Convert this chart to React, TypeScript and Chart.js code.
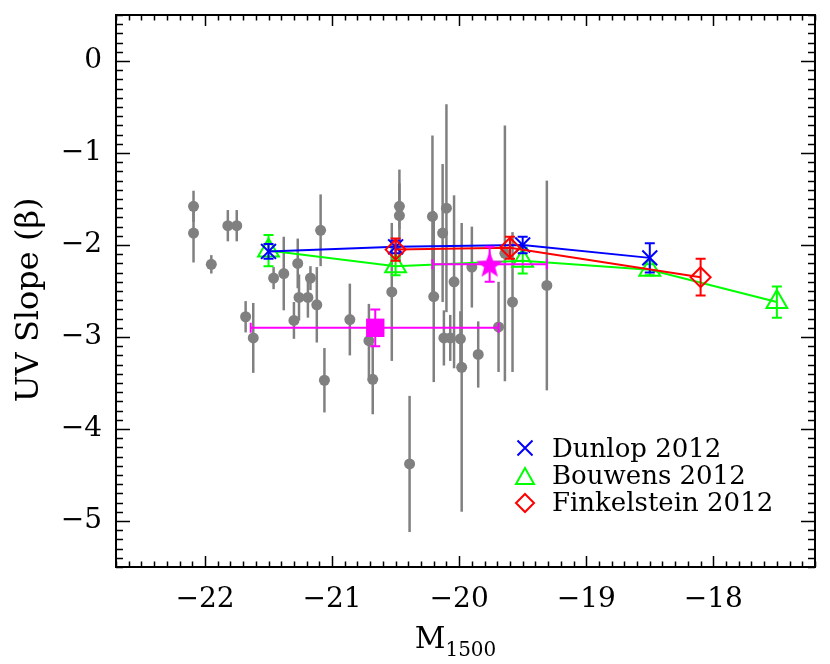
import React, { useEffect, useRef } from 'react';
import { Chart, registerables } from 'chart.js';

Chart.register(...registerables);

// ---- Data ----
const greyM = [-22.09, -22.09, -21.95, -21.82, -21.75, -21.68, -21.62, -21.46, -21.38, -21.30, -21.27, -21.26, -21.19, -21.17, -21.12, -21.09, -21.06, -20.86, -20.71, -20.68, -20.53, -20.47, -20.47, -20.39, -20.21, -20.20, -20.13, -20.10, -20.12, -20.07, -20.04, -19.99, -19.98, -19.90, -19.85, -19.69, -19.64, -19.58, -19.31];
const greyBeta = [-1.58, -1.87, -2.21, -1.79, -1.79, -2.78, -3.01, -2.36, -2.31, -2.82, -2.20, -2.57, -2.57, -2.36, -2.65, -1.84, -3.47, -2.81, -3.04, -3.46, -2.51, -1.58, -1.68, -4.38, -1.69, -2.56, -1.87, -1.60, -3.01, -3.01, -2.40, -3.02, -3.33, -2.24, -3.19, -2.89, -2.09, -2.62, -2.44];
const greyErr = [0.17, 0.32, 0.10, 0.17, 0.17, 0.17, 0.38, 0.12, 0.40, 0.20, 0.27, 0.25, 0.22, 0.13, 0.41, 0.39, 0.35, 0.39, 0.40, 0.38, 0.75, 0.25, 0.50, 0.74, 0.88, 0.93, 0.75, 1.13, 0.30, 0.25, 0.94, 0.30, 1.57, 0.44, 0.36, 0.49, 1.39, 0.76, 1.14];

const dunlopM = [-21.5, -20.5, -19.5, -18.5];
const dunlopBeta = [-2.07, -2.02, -2.00, -2.14];
const dunlopErr = [0.08, 0.07, 0.09, 0.16];

const bouwensM = [-21.5, -20.5, -19.5, -18.5, -17.5];
const bouwensBeta = [-2.06, -2.23, -2.17, -2.27, -2.62];
const bouwensErr = [0.17, 0.10, 0.14, 0.06, 0.17];

const finkM = [-20.5, -19.6, -18.1];
const finkBeta = [-2.05, -2.03, -2.35];
const finkErr = [0.12, 0.12, 0.20];

const squareM = [-20.66];
const squareBeta = [-2.90];
const squareErr = [0.20];
const squareMLo = [-21.64];
const squareMHi = [-19.69];

const starM = [-19.76];
const starBeta = [-2.21];
const starErr = [0.19];
const starMLo = [-20.21];
const starMHi = [-19.31];

const xTicks = [-22, -21, -20, -19, -18];
const yTicks = [0, -1, -2, -3, -4, -5];

const legendLabels = ['Dunlop 2012', 'Bouwens 2012', 'Finkelstein 2012'];

const FONT = "'DejaVu Serif', 'Liberation Serif', serif";

const pts = (xs: number[], ys: number[]) => xs.map((x, i) => ({ x, y: ys[i] }));

function fmt(v: number) {
  if (v === 0) return '0';
  return (v < 0 ? '\u2212' : '') + Math.abs(v);
}

function makeStar(R: number, color: string) {
  const c = document.createElement('canvas');
  const s = Math.ceil(R * 2 + 2);
  c.width = s; c.height = s;
  const g = c.getContext('2d')!;
  const cx = s / 2, cy = s / 2 + R * 0.08;
  const r = R * 0.42;
  g.beginPath();
  for (let i = 0; i < 10; i++) {
    const a = -Math.PI / 2 + (i * Math.PI) / 5;
    const rr = i % 2 === 0 ? R : r;
    const px = cx + rr * Math.cos(a), py = cy + rr * Math.sin(a);
    if (i === 0) g.moveTo(px, py); else g.lineTo(px, py);
  }
  g.closePath();
  g.fillStyle = color;
  g.fill();
  return c;
}

const errPlugin = {
  id: 'errbars',
  beforeDatasetDraw(chart: any, args: any) {
    const ds = chart.data.datasets[args.index];
    if (!ds.errY) return;
    const xs = chart.scales.x, ys = chart.scales.y;
    const ctx = chart.ctx;
    ctx.save();
    ctx.strokeStyle = ds.errColor;
    ctx.lineWidth = ds.errWidth || 2;
    ds.data.forEach((p: any, i: number) => {
      const px = xs.getPixelForValue(p.x);
      const py = ys.getPixelForValue(p.y);
      const yT = ys.getPixelForValue(p.y + ds.errY[i]);
      const yB = ys.getPixelForValue(p.y - ds.errY[i]);
      ctx.beginPath();
      ctx.moveTo(px, yT); ctx.lineTo(px, yB);
      if (ds.cap) {
        ctx.moveTo(px - ds.cap, yT); ctx.lineTo(px + ds.cap, yT);
        ctx.moveTo(px - ds.cap, yB); ctx.lineTo(px + ds.cap, yB);
      }
      if (ds.xLo) {
        const xl = xs.getPixelForValue(ds.xLo[i]);
        const xh = xs.getPixelForValue(ds.xHi[i]);
        ctx.moveTo(xl, py); ctx.lineTo(xh, py);
        ctx.moveTo(xl, py - ds.cap); ctx.lineTo(xl, py + ds.cap);
        ctx.moveTo(xh, py - ds.cap); ctx.lineTo(xh, py + ds.cap);
      }
      ctx.stroke();
    });
    ctx.restore();
  },
  afterDraw(chart: any) {
    const ctx = chart.ctx;
    const a = chart.chartArea;
    const xs = chart.scales.x, ys = chart.scales.y;
    ctx.save();
    ctx.strokeStyle = '#000';
    ctx.lineWidth = 2;
    ctx.strokeRect(a.left, a.top, a.right - a.left, a.bottom - a.top);
    ctx.beginPath();
    for (let k = Math.ceil(xs.min * 10 - 1e-6); k <= Math.floor(xs.max * 10 + 1e-6); k++) {
      const v = k / 10;
      const major = k % 10 === 0;
      const len = major ? 11 : 5.5;
      const px = Math.round(xs.getPixelForValue(v)) + 0.5;
      ctx.moveTo(px, a.bottom); ctx.lineTo(px, a.bottom - len);
      ctx.moveTo(px, a.top); ctx.lineTo(px, a.top + len);
    }
    for (let k = Math.ceil(ys.min * 10 - 1e-6); k <= Math.floor(ys.max * 10 + 1e-6); k++) {
      const v = k / 10;
      const major = k % 10 === 0;
      const len = major ? 14 : 7;
      const py = Math.round(ys.getPixelForValue(v)) + 0.5;
      ctx.moveTo(a.left, py); ctx.lineTo(a.left + len, py);
      ctx.moveTo(a.right, py); ctx.lineTo(a.right - len, py);
    }
    ctx.lineWidth = 1.5;
    ctx.stroke();

    // axis titles
    ctx.fillStyle = '#000';
    ctx.textBaseline = 'alphabetic';
    ctx.textAlign = 'left';
    ctx.font = `30px ${FONT}`;
    const mW = ctx.measureText('M').width;
    ctx.font = `20px ${FONT}`;
    const sW = ctx.measureText('1500').width;
    const startX = (a.left + a.right) / 2 - (mW + sW) / 2 - 10;
    ctx.font = `30px ${FONT}`;
    ctx.fillText('M', startX, 648);
    ctx.font = `20px ${FONT}`;
    ctx.fillText('1500', startX + mW, 656);

    ctx.save();
    ctx.translate(38, 300);
    ctx.rotate(-Math.PI / 2);
    ctx.textAlign = 'center';
    ctx.font = `32px ${FONT}`;
    ctx.fillText('UV Slope (\u03B2)', 0, 0);
    ctx.restore();

    // legend
    const lx = 525;
    const rows = [448, 477, 503];
    ctx.lineWidth = 2;
    ctx.strokeStyle = '#0000ff';
    ctx.beginPath();
    ctx.moveTo(lx - 7.5, rows[0] - 7.5); ctx.lineTo(lx + 7.5, rows[0] + 7.5);
    ctx.moveTo(lx - 7.5, rows[0] + 7.5); ctx.lineTo(lx + 7.5, rows[0] - 7.5);
    ctx.stroke();
    ctx.strokeStyle = '#00ff00';
    ctx.beginPath();
    ctx.moveTo(lx, rows[1] - 9); ctx.lineTo(lx + 9, rows[1] + 7); ctx.lineTo(lx - 9, rows[1] + 7); ctx.closePath();
    ctx.stroke();
    ctx.strokeStyle = '#ff0000';
    ctx.beginPath();
    ctx.moveTo(lx, rows[2] - 9); ctx.lineTo(lx + 9, rows[2]); ctx.lineTo(lx, rows[2] + 9); ctx.lineTo(lx - 9, rows[2]); ctx.closePath();
    ctx.stroke();

    ctx.fillStyle = '#000';
    ctx.font = `26px ${FONT}`;
    ctx.textAlign = 'left';
    const base = [457, 484, 511];
    legendLabels.forEach((t, i) => ctx.fillText(t, 552, base[i]));
    ctx.restore();
  },
};

export default function App() {
  const ref = useRef<HTMLCanvasElement | null>(null);
  useEffect(() => {
    if (!ref.current) return;
    const star = makeStar(14, '#ff00ff');
    const chart = new Chart(ref.current, {
      type: 'scatter',
      data: {
        datasets: [
          {
            label: 'Square',
            data: pts(squareM, squareBeta),
            pointStyle: 'rect',
            pointRadius: 13,
            backgroundColor: '#ff00ff',
            borderColor: '#ff00ff',
            borderWidth: 0,
            showLine: false,
            order: 1,
            errY: squareErr, xLo: squareMLo, xHi: squareMHi, errColor: '#ff00ff', cap: 5,
          } as any,
          {
            label: 'Star',
            data: pts(starM, starBeta),
            pointStyle: star as any,
            pointRadius: 14,
            backgroundColor: '#ff00ff',
            borderColor: '#ff00ff',
            showLine: false,
            order: 2,
            errY: starErr, xLo: starMLo, xHi: starMHi, errColor: '#ff00ff', cap: 5,
          } as any,
          {
            label: legendLabels[2],
            data: pts(finkM, finkBeta),
            pointStyle: 'rectRot',
            pointRadius: 10,
            pointBorderWidth: 2,
            backgroundColor: 'rgba(0,0,0,0)',
            borderColor: '#ff0000',
            borderWidth: 2,
            showLine: true,
            order: 3,
            errY: finkErr, errColor: '#ff0000', cap: 5,
          } as any,
          {
            label: legendLabels[0],
            data: pts(dunlopM, dunlopBeta),
            pointStyle: 'crossRot',
            pointRadius: 10.5,
            pointBorderWidth: 2,
            backgroundColor: 'rgba(0,0,0,0)',
            borderColor: '#0000ff',
            borderWidth: 2,
            showLine: true,
            order: 4,
            errY: dunlopErr, errColor: '#0000ff', cap: 5,
          } as any,
          {
            label: legendLabels[1],
            data: pts(bouwensM, bouwensBeta),
            pointStyle: 'triangle',
            pointRadius: 12,
            pointBorderWidth: 2,
            backgroundColor: 'rgba(0,0,0,0)',
            borderColor: '#00ff00',
            borderWidth: 2,
            showLine: true,
            order: 5,
            errY: bouwensErr, errColor: '#00ff00', cap: 5,
          } as any,
          {
            label: 'Sample',
            data: pts(greyM, greyBeta),
            pointStyle: 'circle',
            pointRadius: 5.5,
            backgroundColor: '#808080',
            borderColor: '#808080',
            borderWidth: 0,
            showLine: false,
            order: 6,
            errY: greyErr, errColor: '#808080', cap: 0, errWidth: 2.5,
          } as any,
        ],
      },
      options: {
        responsive: false,
        animation: false,
        layout: { padding: { left: 0, top: 13, right: 12, bottom: 0 } },
        plugins: { legend: { display: false }, tooltip: { enabled: false } },
        scales: {
          x: {
            type: 'linear',
            min: -22.7,
            max: -17.2,
            grid: { display: false, drawTicks: false },
            border: { display: false },
            afterBuildTicks: (s: any) => { s.ticks = xTicks.map((v) => ({ value: v })); },
            afterFit: (s: any) => { s.height = 97; s.paddingLeft = 0; s.paddingRight = 0; },
            ticks: {
              font: { family: FONT, size: 28 },
              color: '#000',
              padding: 16,
              maxRotation: 0,
              autoSkip: false,
              callback: (v: any) => fmt(Number(v)),
            },
          },
          y: {
            type: 'linear',
            min: -5.5,
            max: 0.5,
            grid: { display: false, drawTicks: false },
            border: { display: false },
            afterBuildTicks: (s: any) => { s.ticks = yTicks.map((v) => ({ value: v })); },
            afterFit: (s: any) => { s.width = 116; s.paddingTop = 0; s.paddingBottom = 0; },
            ticks: {
              font: { family: FONT, size: 28 },
              color: '#000',
              padding: 14,
              autoSkip: false,
              callback: (v: any) => fmt(Number(v)),
            },
          },
        },
      },
      plugins: [errPlugin],
    });
    return () => chart.destroy();
  }, []);
  return (
    <div style={{ position: 'absolute', left: 0, top: 0, width: 830, height: 664, background: '#fff' }}>
      <canvas ref={ref} width={830} height={664} style={{ width: 830, height: 664 }} />
    </div>
  );
}
